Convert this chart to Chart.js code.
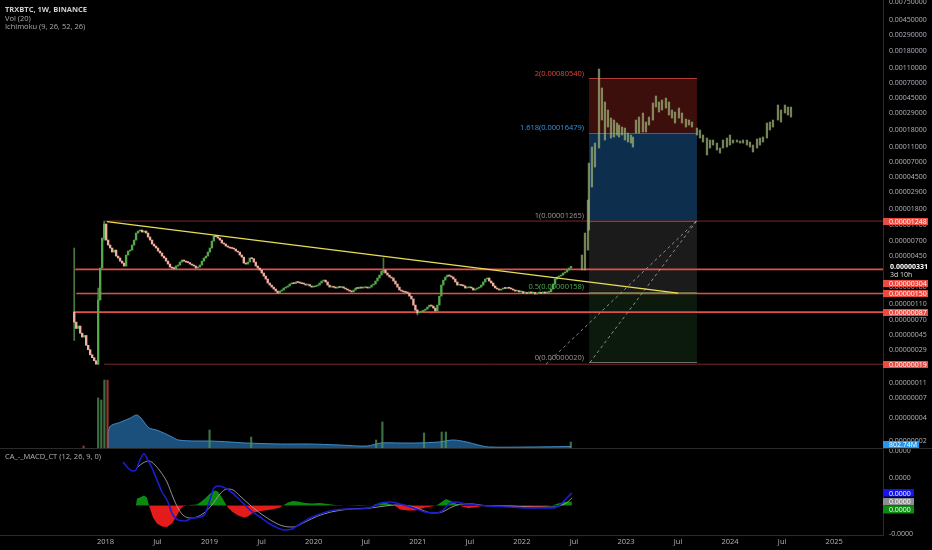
<!DOCTYPE html>
<html>
<head>
<meta charset="utf-8">
<script src="https://cdn.jsdelivr.net/npm/chart.js@4.4.1/dist/chart.umd.min.js"></script>
<style>
  html, body { margin: 0; padding: 0; background: #000; }
  #wrap { position: relative; width: 932px; height: 550px; background: #000; overflow: hidden; }
  #priceCv { position: absolute; left: 0; top: 0; }
  #macdCv  { position: absolute; left: 0; top: 448px; }
</style>
</head>
<body>
<div id="wrap">
  <canvas id="priceCv" width="932" height="448"></canvas>
  <canvas id="macdCv" width="932" height="102"></canvas>
</div>
<script>
// ═══════════════════════════════════════════
// TRXBTC 1W — price (sats), volume, MACD pane
// ═══════════════════════════════════════════

const FONT  = '"Open Sans", "DejaVu Sans", sans-serif';
const X_MIN = 2016.987;
const X_MAX = 2025.469;

// weekly closes in satoshi, first week starts at firstWeek
const firstWeek = 2017.70;
const firstOpen = 87;
const closes = [
  65, 54, 58, 47, 42, 44, 33, 29, 25, 23,
  21, 19, 124, 316, 759, 1143, 716, 619, 567, 504,
  534, 448, 423, 387, 365, 335, 462, 519, 534, 619,
  716, 879, 932, 959, 905, 932, 879, 782, 716, 637,
  601, 567, 519, 490, 448, 423, 387, 355, 325, 316,
  310, 335, 345, 376, 399, 387, 376, 370, 355, 345,
  335, 316, 325, 345, 387, 423, 448, 504, 567, 695,
  805, 790, 759, 716, 656, 637, 601, 583, 567, 560,
  550, 519, 504, 462, 435, 365, 355, 376, 423, 415,
  376, 335, 316, 298, 273, 250, 229, 204, 192, 181,
  171, 161, 152, 161, 166, 176, 181, 187, 198, 204,
  200, 210, 207, 204, 200, 198, 192, 195, 187, 181,
  183, 187, 192, 204, 216, 222, 210, 192, 181, 184,
  180, 176, 181, 179, 182, 176, 171, 166, 161, 157,
  166, 176, 174, 181, 176, 178, 181, 176, 181, 192,
  198, 216, 236, 257, 289, 298, 273, 257, 243, 236,
  216, 198, 181, 166, 161, 157, 155, 152, 139, 128,
  107, 92, 85, 87, 88, 92, 95, 101, 107, 104,
  98, 90, 107, 139, 192, 222, 243, 257, 250, 243,
  229, 210, 192, 195, 190, 187, 176, 178, 181, 176,
  166, 171, 176, 181, 192, 210, 229, 236, 216, 204,
  187, 176, 171, 166, 171, 176, 174, 178, 175, 171,
  166, 161, 163, 157, 159, 152, 154, 150, 157, 152,
  155, 148, 152, 154, 151, 157, 152, 155, 158, 171,
  198, 229, 243, 250, 257, 273, 281, 298, 316, 331
];
const wickIdx  = [0, 12, 15, 155, 172];
const wickLow  = [38, 19, 716, 273, 80];
const wickHigh = [567, 176, 1248, 423, 95];

// projected bars pattern (HL bars)
const projT = [
  2022.577, 2022.606, 2022.635, 2022.644, 2022.673, 2022.702, 2022.741, 2022.769, 2022.798, 2022.827,
  2022.856, 2022.885, 2022.914, 2022.933, 2022.962, 2022.990, 2023.019, 2023.048, 2023.067, 2023.096,
  2023.125, 2023.163, 2023.192, 2023.221, 2023.259, 2023.288, 2023.317, 2023.346, 2023.384, 2023.413,
  2023.442, 2023.471, 2023.509, 2023.538, 2023.576, 2023.605, 2023.634, 2023.682, 2023.711, 2023.740,
  2023.778, 2023.807, 2023.836, 2023.874, 2023.903, 2023.932, 2023.970, 2023.999, 2024.028, 2024.066,
  2024.095, 2024.124, 2024.162, 2024.191, 2024.220, 2024.259, 2024.287, 2024.316, 2024.354, 2024.383,
  2024.412, 2024.460, 2024.489, 2024.527, 2024.556, 2024.585
];
const projLow = [
  298, 298, 534, 959, 3373, 6050, 10550, 23910, 13330, 19490,
  14130, 14550, 15420, 14550, 15420, 13330, 12570, 12200, 10860, 16350,
  16350, 16850, 16850, 20670, 23910, 34970, 30220, 32050, 33960, 27680,
  25350, 21910, 25350, 21910, 19490, 20670, 19490, 15420, 14130, 12570,
  8600, 10550, 11510, 9950, 9110, 10550, 10860, 11510, 12200, 12570,
  12200, 12200, 11510, 10860, 9390, 10550, 11510, 12570, 14130, 17860,
  19490, 23910, 22560, 29350, 27680, 26110
];
const projHigh = [
  462, 879, 2306, 6800, 10860, 12200, 106200, 61000, 40540, 32050,
  25350, 23910, 21910, 20670, 19490, 18930, 16350, 15420, 14550, 23910,
  26110, 29350, 22560, 26110, 39350, 48300, 40540, 42950, 45500, 40540,
  32050, 30220, 33960, 29350, 24610, 23910, 22560, 18930, 17860, 15420,
  14130, 13330, 13330, 12200, 10550, 13330, 14130, 15420, 13330, 13330,
  12940, 13330, 13330, 12570, 11510, 13730, 14130, 14550, 21910, 22560,
  23910, 37080, 32050, 37080, 34970, 34970
];

// drawings
const levelPrices = [1248, 304, 150, 87, 19];
const levelFrom   = [2017.995, 2017.71, 2017.72, 2017.69, 2017.985];
const currentPrice = 331;
const trendT = [2018.014, 2023.50];
const trendP = [1230, 152];
const dashAT = [2022.232, 2023.682];
const dashAP = [19, 1265];
const dashBT = [2022.654, 2023.682];
const dashBP = [20, 1265];
const fibRatios = ['0', '0.5', '1', '1.618', '2'];
const fibPrices = [20, 158, 1265, 16479, 80540];
const fibFrom = 2022.645;
const fibTo   = 2023.682;

// volume (millions)
const volT = [2018.024, 2018.04, 2018.15, 2018.24, 2018.30, 2018.34, 2018.37, 2018.42, 2018.49, 2018.56,
              2018.64, 2018.70, 2018.86, 2019.00, 2019.20, 2019.35, 2019.68, 2019.96, 2020.25, 2020.51,
              2020.65, 2020.83, 2020.99, 2021.20, 2021.34, 2021.47, 2021.58, 2021.68, 2022.08, 2022.47];
const volV = [0, 11250, 13930, 16070, 17680, 16070, 13930, 10710, 9640, 8040,
              5890, 4290, 3750, 3750, 3210, 2680, 2140, 2140, 1610, 1070,
              2680, 2680, 2680, 3210, 4290, 3210, 1610, 540, 540, 802.74];
const spikeT  = [2017.79, 2017.93, 2017.96, 2017.99, 2018.02, 2019.00, 2019.40, 2020.60, 2020.66, 2021.06, 2021.23, 2021.27, 2022.47];
const spikeV  = [1070, 26800, 25700, 36400, 36400, 9640, 5890, 4290, 13930, 8040, 8570, 8570, 3210];
const spikeUp = [0, 1, 1, 1, 0, 1, 1, 1, 1, 1, 1, 1, 1];

// MACD pane
const macdT = [2018.168, 2018.216, 2018.264, 2018.293, 2018.331, 2018.370, 2018.408, 2018.447, 2018.495, 2018.543,
               2018.591, 2018.648, 2018.696, 2018.764, 2018.831, 2018.908, 2018.956, 2019.004, 2019.042, 2019.081,
               2019.129, 2019.196, 2019.292, 2019.388, 2019.484, 2019.580, 2019.657, 2019.724, 2019.792, 2019.869,
               2019.965, 2020.061, 2020.157, 2020.310, 2020.445, 2020.560, 2020.646, 2020.733, 2020.829, 2020.964,
               2021.070, 2021.165, 2021.233, 2021.309, 2021.367, 2021.453, 2021.549, 2021.684, 2021.886, 2022.087,
               2022.299, 2022.366, 2022.433, 2022.481];
const macdV = [43.5, 37.5, 34.5, 35.5, 45.5, 51.5, 45.5, 37.5, 25.5, 13.5,
               5.5, -9.5, -14.5, -15.5, -12.5, -11.5, -8.5, 5.5, 17.5, 19.5,
               18.5, 14.5, 5.5, -4.5, -11.5, -18.5, -22.5, -24.5, -23.5, -18.5,
               -12.5, -8.5, -5.5, -3.5, -3.5, -1.5, 2.5, 3.5, 1.5, -2.5,
               -6.5, -7.5, -5.5, 2.5, 3.5, 1.5, 0.5, -0.5, -1.5, -2.5,
               -2.5, 0.5, 7.5, 12.5];
const signalT = [2018.312, 2018.360, 2018.418, 2018.476, 2018.524, 2018.591, 2018.648, 2018.696, 2018.744, 2018.812,
                 2018.879, 2018.946, 2019.023, 2019.100, 2019.167, 2019.225, 2019.292, 2019.388, 2019.484, 2019.600,
                 2019.705, 2019.801, 2019.917, 2020.041, 2020.166, 2020.349, 2020.541, 2020.685, 2020.781, 2020.925,
                 2021.041, 2021.137, 2021.233, 2021.329, 2021.425, 2021.521, 2021.684, 2021.886, 2022.087, 2022.299,
                 2022.385, 2022.433, 2022.481];
const signalV = [38.5, 42.5, 44.5, 40.5, 34.5, 23.5, 8.5, -2.5, -9.5, -12.5,
                 -11.5, -7.5, 0.5, 11.5, 16.5, 15.5, 9.5, 0.5, -7.5, -15.5,
                 -20.5, -21.5, -16.5, -10.5, -6.5, -3.5, -2.5, -0.5, 0.5, -0.5,
                 -4.5, -7.5, -6.5, -1.5, 1.5, 1.5, -0.5, -0.5, -1.5, -1.5,
                 0.5, 3, 7.5];
const histT = [2018.293, 2018.303, 2018.331, 2018.370, 2018.399, 2018.418, 2018.428, 2018.456, 2018.495, 2018.543,
               2018.591, 2018.639, 2018.687, 2018.716, 2018.744, 2018.812, 2018.879, 2018.908, 2018.956, 2019.004,
               2019.052, 2019.081, 2019.119, 2019.158, 2019.177, 2019.215, 2019.273, 2019.330, 2019.369, 2019.407,
               2019.465, 2019.532, 2019.600, 2019.676, 2019.705, 2019.753, 2019.801, 2019.849, 2019.917, 2019.984,
               2020.061, 2020.137, 2020.205, 2020.301, 2020.445, 2020.560, 2020.618, 2020.666, 2020.733, 2020.791,
               2020.829, 2020.906, 2020.973, 2021.070, 2021.137, 2021.194, 2021.271, 2021.329, 2021.386, 2021.425,
               2021.482, 2021.549, 2021.616, 2021.693, 2021.751, 2021.886, 2022.078, 2022.222, 2022.289, 2022.347,
               2022.414, 2022.481];
const histV = [0, 7, 8, 10, 8, 0, -3, -12, -18, -21,
               -21.5, -18, -10, -4, -1, 0.5, 1, 3, 7, 12,
               15, 14, 8, 1, -2, -6, -10, -12, -11, -8,
               -6, -5, -4, -2, 0, 3, 4.5, 4, 2.5, 2,
               2.5, 1.5, 0.5, 0, 0.5, 0, 2, 3.5, 1.5, -1,
               -4, -5, -5, -2, -1, 1, 6.5, 4, 1, -1,
               -2.5, -2, -0.5, 0, -1, -1.5, -1.5, -1, 0, 2,
               3.5, 4];

// axis ticks
const priceTicks = [750000, 450000, 290000, 180000, 110000, 70000, 45000, 29000, 18000, 11000,
                    7000, 4500, 2900, 1800, 1100, 700, 450, 290, 180, 110, 70, 45, 29, 18, 11, 7, 4, 2];
const macdTicks  = [54.5, 27.5, -28.5];
const timeTicks  = [2018, 2018.5, 2019, 2019.5, 2020, 2020.5, 2021, 2021.5, 2022, 2022.5, 2023, 2023.5, 2024, 2024.5, 2025];
const timeLabels = ['2018', 'Jul', '2019', 'Jul', '2020', 'Jul', '2021', 'Jul', '2022', 'Jul', '2023', 'Jul', '2024', 'Jul', '2025'];

// ───────── helpers ─────────
const UP = '#55a84a';
const DOWN = '#f2ae9f';
const AXIS_TXT = '#b2b5be';
const FIB_FILL = ['rgba(76,175,80,0.15)', 'rgba(128,128,128,0.21)', 'rgba(33,120,200,0.38)', 'rgba(200,45,40,0.30)'];
const FIB_LINE = ['#6d6d6d', '#3f7f44', '#6d6d6d', '#2a6aa8', '#b03a34'];
const FIB_TXT  = ['#9a9a9a', '#4caf50', '#9a9a9a', '#3596e6', '#e0463f'];
const AX_FONT = 7;

const weekT = i => firstWeek + i * 7 / 365.25;
const fmt8 = v => (v / 1e8).toFixed(8);
const pts = (ts, vs) => ts.map((t, i) => ({ x: t, y: vs[i] }));

// fixed axis box, no edge padding so the pane spans the canvas
function fitY(s) { s.width = 49; s.paddingTop = 0; s.paddingBottom = 0; }
function fitX(s) { s.height = 15; s.paddingLeft = 0; s.paddingRight = 0; }

function badge(ctx, x, yc, w, h, bg, txt, fg, bold) {
  ctx.fillStyle = bg;
  ctx.fillRect(x, Math.round(yc - h / 2), w, h);
  ctx.fillStyle = fg;
  ctx.font = (bold ? 'bold ' : '') + AX_FONT + 'px ' + FONT;
  ctx.textAlign = 'left';
  ctx.textBaseline = 'middle';
  ctx.fillText(txt, x + 6, yc + 0.5);
}

// push overlapping labels downward
function stackLabels(items) {
  items.sort((a, b) => a.y - b.y);
  let bottom = -Infinity;
  items.forEach(it => {
    if (it.y - it.top < bottom) it.y = bottom + it.top;
    bottom = it.y + it.bot;
  });
  return items;
}

Chart.defaults.font.family = FONT;

// ───────── price chart ─────────
const candleData = closes.map((c, i) => ({ x: weekT(i), y: [i ? closes[i - 1] : firstOpen, c] }));
const wickData   = wickIdx.map((k, j) => ({ x: weekT(k), y: [wickLow[j], wickHigh[j]] }));
const projData   = projT.map((t, i) => ({ x: t, y: [projLow[i], projHigh[i]] }));

const levelSets = levelPrices.map((p, i) => {
  const bright = i >= 1 && i <= 3;
  return {
    type: 'line',
    data: [{ x: levelFrom[i], y: p }, { x: X_MAX, y: p }],
    borderColor: bright ? '#e0514a' : '#7a2828',
    borderWidth: bright ? 1.6 : 1,
    pointRadius: 0,
    yAxisID: 'y',
    order: 5
  };
});

const priceOverlay = {
  id: 'priceOverlay',
  beforeDatasetsDraw(chart) {
    const { ctx, scales: { x, y } } = chart;
    const x0 = x.getPixelForValue(fibFrom);
    const x1 = x.getPixelForValue(fibTo);
    ctx.save();
    for (let i = 0; i < fibPrices.length - 1; i++) {
      const yLo = y.getPixelForValue(fibPrices[i]);
      const yHi = y.getPixelForValue(fibPrices[i + 1]);
      ctx.fillStyle = FIB_FILL[i];
      ctx.fillRect(x0, yHi, x1 - x0, yLo - yHi);
    }
    ctx.lineWidth = 1;
    fibPrices.forEach((p, i) => {
      const yy = Math.round(y.getPixelForValue(p)) + 0.5;
      ctx.strokeStyle = FIB_LINE[i];
      ctx.beginPath(); ctx.moveTo(x0, yy); ctx.lineTo(x1, yy); ctx.stroke();
    });
    ctx.restore();
  },
  afterDatasetsDraw(chart) {
    const { ctx, scales: { x, y } } = chart;
    const x0 = x.getPixelForValue(fibFrom);
    ctx.save();
    ctx.font = '7.5px ' + FONT;
    ctx.textAlign = 'right';
    ctx.textBaseline = 'bottom';
    fibPrices.forEach((p, i) => {
      ctx.fillStyle = FIB_TXT[i];
      ctx.fillText(`${fibRatios[i]}(${fmt8(p)})`, x0 - 5, y.getPixelForValue(p) - 1);
    });
    // legend
    ctx.textAlign = 'left';
    ctx.textBaseline = 'middle';
    ctx.font = 'bold 7.5px ' + FONT;
    ctx.fillStyle = '#cfcfcf';
    ctx.fillText('TRXBTC, 1W, BINANCE', 5, 10);
    ctx.font = '7.5px ' + FONT;
    ctx.fillStyle = '#ababab';
    ctx.fillText('Vol (20)', 5, 18.5);
    ctx.fillText('Ichimoku (9, 26, 52, 26)', 5, 27);
    ctx.restore();
  },
  afterDraw(chart) {
    const { ctx, chartArea, scales: { y, yVol } } = chart;
    const ax = y.left;
    ctx.save();
    const items = levelPrices.map(p => ({ kind: 'lvl', v: p, y: y.getPixelForValue(p), top: 3.5, bot: 3.5 }));
    items.push({ kind: 'cur', v: currentPrice, y: y.getPixelForValue(currentPrice), top: 5, bot: 14 });
    stackLabels(items).forEach(it => {
      if (it.kind === 'cur') {
        ctx.fillStyle = '#000';
        ctx.fillRect(ax + 1, it.y - 5, 46, 19);
        badge(ctx, ax + 1, it.y, 0, 0, '#000', fmt8(it.v), '#ffffff', true);
        ctx.fillStyle = '#dcdcdc';
        ctx.font = AX_FONT + 'px ' + FONT;
        ctx.fillText('3d 10h', ax + 7, it.y + 9);
      } else {
        badge(ctx, ax, it.y, 45, 7, '#ec4a41', fmt8(it.v), '#ffffff', false);
      }
    });
    const lastVol = volV[volV.length - 1];
    const vy = Math.min(yVol.getPixelForValue(lastVol), chartArea.bottom - 3.5);
    badge(ctx, ax, vy, 36, 7, '#2196f3', lastVol.toFixed(2) + 'M', '#ffffff', false);
    ctx.restore();
  }
};

new Chart(document.getElementById('priceCv'), {
  type: 'bar',
  data: {
    datasets: [
      {
        type: 'line', data: pts(trendT, trendP), borderColor: '#e8df55', borderWidth: 1.3,
        pointRadius: 0, yAxisID: 'y', order: 0
      },
      {
        type: 'line', data: pts(dashAT, dashAP), borderColor: 'rgba(180,180,180,0.75)', borderWidth: 1,
        borderDash: [3, 3], pointRadius: 0, yAxisID: 'y', order: 1
      },
      {
        type: 'line', data: pts(dashBT, dashBP), borderColor: 'rgba(180,180,180,0.75)', borderWidth: 1,
        borderDash: [3, 3], pointRadius: 0, yAxisID: 'y', order: 1
      },
      {
        data: candleData, yAxisID: 'y', grouped: false, barThickness: 1.7, minBarLength: 1,
        backgroundColor: ctx => (ctx.raw && ctx.raw.y[1] >= ctx.raw.y[0]) ? UP : DOWN, order: 2
      },
      {
        data: projData, yAxisID: 'y', grouped: false, barThickness: 1.6, minBarLength: 1,
        backgroundColor: 'rgba(160,180,120,0.72)', order: 2
      },
      {
        data: wickData, yAxisID: 'y', grouped: false, barThickness: 1,
        backgroundColor: 'rgba(95,150,80,0.8)', order: 3
      },
      ...levelSets,
      {
        data: pts(spikeT, spikeV), yAxisID: 'yVol', grouped: false, barThickness: 1.5,
        backgroundColor: spikeUp.map(u => u ? 'rgba(80,150,90,0.75)' : 'rgba(200,70,60,0.75)'), order: 8
      },
      {
        type: 'line', data: pts(volT, volV), yAxisID: 'yVol', borderColor: 'rgba(70,150,210,0.9)',
        borderWidth: 1, backgroundColor: 'rgba(36,105,165,0.75)', fill: 'origin',
        pointRadius: 0, tension: 0.3, order: 9
      }
    ]
  },
  options: {
    responsive: false,
    animation: false,
    layout: { padding: 0 },
    plugins: { legend: { display: false }, tooltip: { enabled: false } },
    scales: {
      x: {
        type: 'linear', min: X_MIN, max: X_MAX, offset: false, bounds: 'data', display: false
      },
      y: {
        type: 'logarithmic', position: 'right', min: 1.64, max: 799000, bounds: 'data',
        afterBuildTicks: s => { s.ticks = priceTicks.map(v => ({ value: v })); },
        afterFit: fitY,
        ticks: {
          autoSkip: false, color: AXIS_TXT, padding: 6,
          font: { size: AX_FONT, family: FONT },
          callback: v => fmt8(v)
        },
        grid: { display: false, drawTicks: false },
        border: { display: true, color: '#2b2b2b' }
      },
      yVol: { type: 'linear', display: false, min: 0, max: 240000 }
    }
  },
  plugins: [priceOverlay]
});

// ───────── MACD chart ─────────
const macdOverlay = {
  id: 'macdOverlay',
  afterDraw(chart) {
    const { ctx, scales: { y } } = chart;
    ctx.save();
    ctx.strokeStyle = '#2b2b2b';
    ctx.lineWidth = 1;
    ctx.beginPath(); ctx.moveTo(0, 0.5); ctx.lineTo(chart.width, 0.5); ctx.stroke();
    ctx.font = '7.5px ' + FONT;
    ctx.fillStyle = '#b4b4b4';
    ctx.textAlign = 'left';
    ctx.textBaseline = 'middle';
    ctx.fillText('CA_-_MACD_CT (12, 26, 9, 0)', 5, 9);
    const items = [
      { y: y.getPixelForValue(macdV[macdV.length - 1]), top: 4.2, bot: 4.2, bg: '#1414f0' },
      { y: y.getPixelForValue(signalV[signalV.length - 1]), top: 4.2, bot: 4.2, bg: '#8e8e8e' },
      { y: y.getPixelForValue(histV[histV.length - 1]), top: 4.2, bot: 4.2, bg: '#0c8a12' }
    ];
    stackLabels(items).forEach(it => badge(ctx, y.left, it.y, 31, 7.5, it.bg, '0.0000', '#ffffff', false));
    ctx.restore();
  }
};

new Chart(document.getElementById('macdCv'), {
  type: 'line',
  data: {
    datasets: [
      {
        data: pts(macdT, macdV), borderColor: '#1c1cd2', borderWidth: 1.6, pointRadius: 0,
        cubicInterpolationMode: 'monotone', order: 0
      },
      {
        data: pts(signalT, signalV), borderColor: '#a0a0a0', borderWidth: 0.9, pointRadius: 0,
        cubicInterpolationMode: 'monotone', order: 1
      },
      {
        data: pts(histT, histV), borderWidth: 0, pointRadius: 0,
        fill: { target: 'origin', above: '#0b8a10', below: '#e31b1b' }, order: 2
      }
    ]
  },
  options: {
    responsive: false,
    animation: false,
    layout: { padding: 0 },
    plugins: { legend: { display: false }, tooltip: { enabled: false } },
    scales: {
      x: {
        type: 'linear', min: X_MIN, max: X_MAX, offset: false, bounds: 'data',
        afterBuildTicks: s => { s.ticks = timeTicks.map(v => ({ value: v })); },
        afterFit: fitX,
        ticks: {
          autoSkip: false, maxRotation: 0, color: AXIS_TXT, padding: 2,
          font: { size: 7.5, family: FONT },
          callback: (v, i) => timeLabels[i]
        },
        grid: { display: false, drawTicks: false },
        border: { display: true, color: '#2b2b2b' }
      },
      y: {
        type: 'linear', position: 'right', min: -29.5, max: 57.5, bounds: 'data',
        afterBuildTicks: s => { s.ticks = macdTicks.map(v => ({ value: v })); },
        afterFit: fitY,
        ticks: {
          autoSkip: false, color: AXIS_TXT, padding: 6,
          font: { size: AX_FONT, family: FONT },
          callback: v => (v < 0 ? '-0.0000' : '0.0000')
        },
        grid: { display: false, drawTicks: false },
        border: { display: true, color: '#2b2b2b' }
      }
    }
  },
  plugins: [macdOverlay]
});
</script>
</body>
</html>
